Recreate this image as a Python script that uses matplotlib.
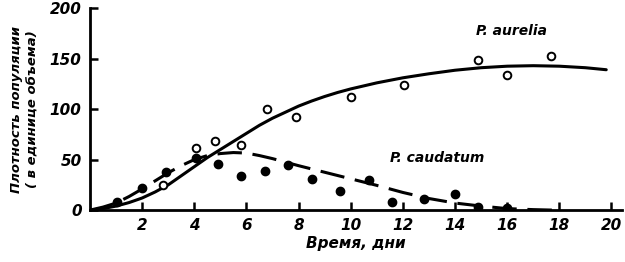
import matplotlib
matplotlib.use("Agg")
import matplotlib.pyplot as plt

# Data
aurelia_x = [2.8, 4.05, 4.8, 5.8, 6.8, 7.9, 10.0, 12.05, 14.9, 16.0, 17.7]
aurelia_y = [25, 62, 68, 64, 100, 92, 112, 124, 149, 134, 153]

caudatum_x = [1.05, 2.0, 2.9, 4.05, 4.9, 5.8, 6.7, 7.6, 8.5, 9.6, 10.7, 11.6, 12.8, 14.0, 14.9, 16.0]
caudatum_y = [8, 22, 38, 52, 46, 34, 39, 45, 31, 19, 30, 8, 11, 16, 3, 2]

aurelia_curve_x = [0, 0.5, 1, 1.5, 2, 2.5, 3, 3.5, 4, 4.5, 5, 5.5, 6, 6.5, 7, 7.5, 8, 8.5, 9, 9.5, 10,
                   11, 12, 13, 14, 15, 16, 17, 18, 19, 19.8]
aurelia_curve_y = [0, 1.5, 4, 7.5, 12, 18, 25, 34, 43, 52, 60, 68, 76, 84, 91, 97, 103, 108, 112.5, 116.5, 120,
                   126, 131, 135, 138.5, 141, 142.5, 143, 142.5, 141, 139]

caudatum_curve_x = [0, 0.5, 1, 1.5, 2, 2.5, 3, 3.5, 4, 4.5, 5, 5.5, 6, 6.5, 7, 7.5, 8, 9, 10, 11, 12, 13, 14, 15, 16, 17, 17.8]
caudatum_curve_y = [0, 3, 7, 13.5, 21, 29, 37, 44, 50, 54, 56, 57, 56.5, 54, 51, 47.5, 44, 37.5, 31, 24.5, 17.5, 11.5, 7, 4, 1.5, 0.5, 0]

xticks = [2, 4, 6, 8, 10, 12, 14, 16, 18, 20]
yticks = [0, 50, 100, 150, 200]

font = dict(family="DejaVu Sans", weight="bold", style="italic")

fig = plt.figure(figsize=(6.25, 2.62), dpi=100)
ax = fig.add_axes([0.144, 0.198, 0.851, 0.771])

ax.plot(aurelia_curve_x, aurelia_curve_y, color="black", lw=2.2, solid_capstyle="round",
        solid_joinstyle="round")
ax.plot(caudatum_curve_x, caudatum_curve_y, color="black", lw=2.2, dashes=(8, 3.5))
ax.plot(aurelia_x, aurelia_y, "o", mfc="white", mec="black", mew=1.4, ms=5.5)
ax.plot(caudatum_x, caudatum_y, "o", color="black", ms=6)

ax.set_xlim(0, 20.4)
ax.set_ylim(0, 200)
ax.spines["top"].set_visible(False)
ax.spines["right"].set_visible(False)
ax.spines["left"].set_linewidth(2)
ax.spines["bottom"].set_linewidth(2)
ax.set_xticks(xticks)
ax.set_yticks(yticks)
ax.tick_params(direction="in", length=6, width=1.8, pad=6)
for lab in ax.get_xticklabels() + ax.get_yticklabels():
    lab.set_fontsize(11)
    lab.set_fontweight("bold")
    lab.set_fontstyle("italic")

ax.set_xlabel("Время, дни", fontsize=11, labelpad=2, **font)
ax.set_ylabel("Плотность популяции\n( в единице объема)", fontsize=9.5, labelpad=8,
              linespacing=1.3, **font)

ax.text(14.8, 173, "P. aurelia", fontsize=10, **font)
ax.text(11.5, 48, "P. caudatum", fontsize=10, **font)

fig.savefig("out.png", dpi=100)
